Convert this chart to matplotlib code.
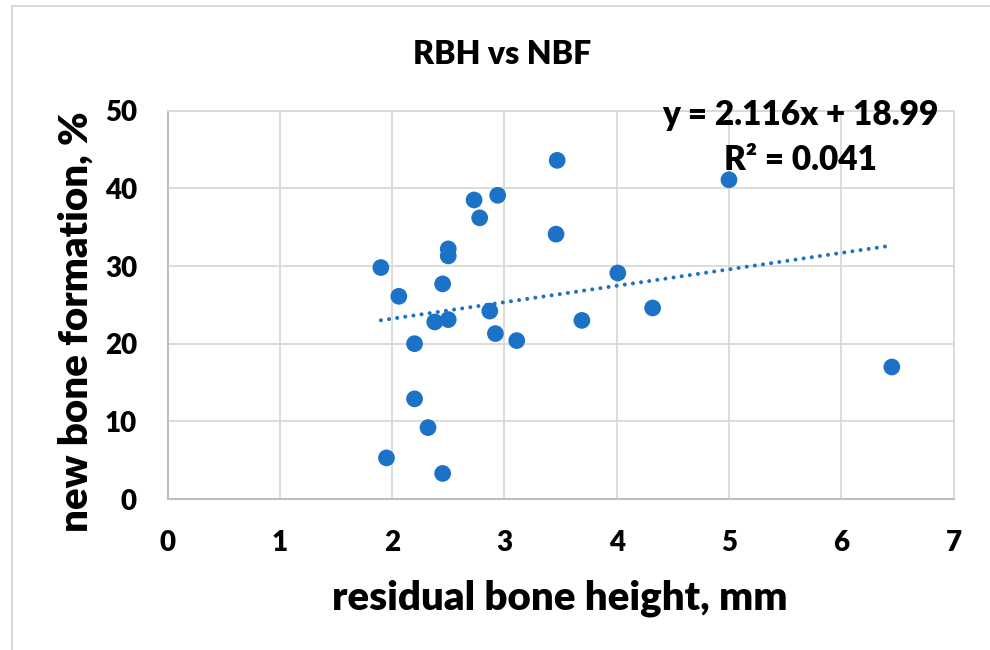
import matplotlib
matplotlib.use('Agg')
import matplotlib.pyplot as plt
from matplotlib.patches import Rectangle
import numpy as np

# residual bone height (mm) vs new bone formation (%)
rbh = [1.90, 2.06, 1.95, 2.20, 2.20, 2.32, 2.38, 2.45, 2.45, 2.50, 2.50, 2.50,
       2.73, 2.78, 2.87, 2.92, 2.94, 3.11, 3.47, 3.46, 3.69, 4.01, 4.32, 5.00, 6.45]
nbf = [29.8, 26.1, 5.3, 20.0, 12.9, 9.2, 22.8, 27.7, 3.3, 32.2, 31.3, 23.1,
       38.5, 36.2, 24.2, 21.3, 39.1, 20.4, 43.6, 34.1, 23.0, 29.1, 24.6, 41.1, 17.0]
slope = 2.116
intercept = 18.99
eq_text = "y = 2.116x + 18.99"
r2_text = "R² = 0.041"
xticks = [0, 1, 2, 3, 4, 5, 6, 7]
yticks = [0, 10, 20, 30, 40, 50]

plt.rcParams['font.family'] = ['Lato', 'DejaVu Sans']
W = 'heavy'

blue = '#1B72C6'
grid_c = '#D9D9D9'

fig = plt.figure(figsize=(9.9, 6.5), dpi=100)
# outer chart border (only left/top visible in the crop)
fig.patches.append(Rectangle((12/990, -0.1), 1.2, 1 - 6/650 + 0.1, transform=fig.transFigure,
                             fill=False, edgecolor='#D9D9D9', linewidth=1.5))

ax = fig.add_axes([0.1692, 0.2322, 0.9632 - 0.1692, 0.8298 - 0.2322])
ax.set_xlim(0, 7)
ax.set_ylim(0, 50)
ax.set_xticks(xticks)
ax.set_yticks(yticks)
ax.grid(True, color=grid_c, linewidth=1.3)
ax.set_axisbelow(True)
for s in ['top', 'right']:
    ax.spines[s].set_color(grid_c)
    ax.spines[s].set_linewidth(1.3)
for s in ['left', 'bottom']:
    ax.spines[s].set_color('#BFBFBF')
    ax.spines[s].set_linewidth(1.5)
ax.tick_params(length=0, labelsize=20)
ax.tick_params(axis='y', pad=22)
ax.tick_params(axis='x', pad=22)
for lab in ax.get_xticklabels() + ax.get_yticklabels():
    lab.set_fontweight(W)

ax.scatter(rbh, nbf, s=145, color=blue, edgecolor='none', zorder=3)

# linear trendline over data range
xt = np.array([min(rbh), max(rbh)])
ax.plot(xt, slope * xt + intercept, color=blue, linewidth=2.9,
        linestyle=(0, (0.01, 2.03)), dash_capstyle='round', zorder=2)

fig.text(502/990, 1 - 55/650, "RBH vs NBF", ha='center', va='center', fontsize=23, fontweight=W)
fig.text(800/990, 1 - 115/650, eq_text, ha='center', va='center', fontsize=24, fontweight=W)
fig.text(800/990, 1 - 160/650, r2_text, ha='center', va='center', fontsize=24, fontweight=W)
fig.text(560/990, 1 - 598/650, "residual bone height, mm", ha='center', va='center', fontsize=29, fontweight=W)
fig.text(76/990, 1 - 322/650, "new bone formation, %", ha='center', va='center', rotation=90,
         fontsize=29, fontweight=W)

fig.savefig('out.png', dpi=100)
